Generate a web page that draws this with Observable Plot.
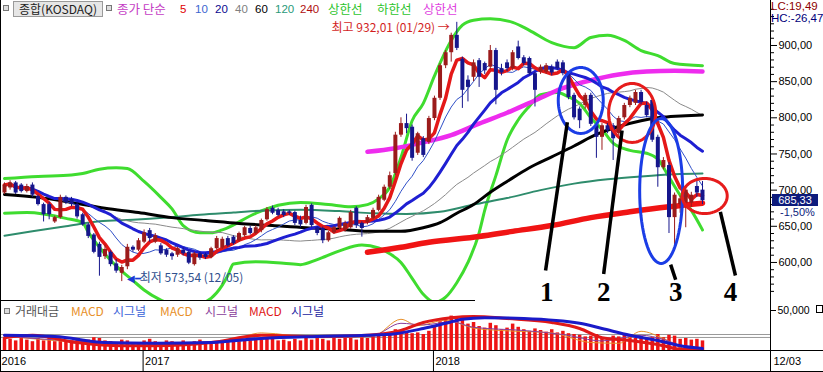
<!DOCTYPE html>
<html><head><meta charset="utf-8">
<script src="https://cdn.jsdelivr.net/npm/d3@7"></script>
<script src="https://cdn.jsdelivr.net/npm/@observablehq/plot@0.6"></script>
<style>
body{margin:0;background:#fff;}
#wrap{position:relative;width:823px;height:372px;overflow:hidden;background:#fff;font-family:"Liberation Sans",Arial,sans-serif;}
#wrap svg{position:absolute;left:0;overflow:visible;}
.ov{position:absolute;white-space:nowrap;line-height:15px;font-size:12px;}
</style></head><body><div id="wrap"></div>
<script>
// ---------- DATA (weekly KOSDAQ candles, index 0 = Jul 2016, 125 = 12/03/2018) ----------
const opens = [696,703,710,707,698,707,691,680,680,656, 662,690,687,680,666,652,638,625,608,614,
 598,585,594,621,617,628,644,628,623,617, 612,610,617,614,597,612,611,607,619,620,
 633,635,630,637,647,640,644,659,675,672, 670,670,669,658,654,679,648,647,630,641,
 647,644,648,675,654,655,661,672,686,704, 723,776,792,787,751,771,766,799,827,872,
 890,914,881,852,856,879,875,870,893,868, 876,868,898,883,882,861,863,863,870,877,
 876,861,831,812,817,831,789,773,789,789, 778,800,817,820,835,817,824,773,731,734,
 662,680,682,682,705,700];
const highs = [710,713,712,709,708,710,693,682,683,664, 693,692,690,683,668,654,640,628,624,616,
 604,596,625,623,633,645,647,640,626,619, 614,621,620,616,614,614,613,621,636,635,
 636,637,642,650,650,651,660,676,678,675, 673,672,671,664,679,681,650,649,643,650,
 663,657,672,677,656,665,675,693,707,725, 780,800,805,790,780,774,802,830,875,893,
 917,932.01,884,858,880,882,877,900,896,874, 880,893,906,886,884,863,873,875,873,880,
 879,864,834,815,834,834,792,792,792,792, 802,820,830,838,838,822,826,776,745,738,
 696,692,704,697,712,712];
const lows = [694,700,694,696,696,690,678,656,659,654, 660,680,677,660,650,633,612,581,604,594,
 585,573.54,590,614,615,626,628,626,610,607, 603,607,609,597,595,603,604,605,617,618,
 621,624,628,635,638,638,641,657,666,663, 662,665,651,648,652,648,637,626,628,639,
 645,642,646,647,635,652,659,670,684,701, 720,773,778,740,748,745,763,796,824,868,
 877,893,813,822,850,842,860,866,818,858, 864,865,880,872,858,815,860,860,858,865,
 858,825,797,785,812,788,744,755,778,741, 775,797,814,817,818,800,766,704,728,640,
 617,668,648,676,690,680];
const closes = [707,710,696,698,705,693,680,666,666,662, 690,683,680,663,652,636,614,607,618,597,
 588,593,621,617,630,641,633,637,612,610, 608,619,612,599,612,606,607,619,633,632,
 623,626,640,648,640,648,658,673,668,665, 665,668,654,652,676,651,640,630,641,648,
 661,654,669,651,647,662,672,690,704,720, 776,792,785,744,778,748,799,827,872,890,
 914,896,838,842,876,856,865,893,838,862, 868,890,882,875,861,838,870,872,862,868,
 861,828,800,796,831,791,773,789,782,771, 799,817,827,835,821,803,769,731,741,662,
 693,688,700,693,696,685.33];

// lines: [week index, value]
const ma60 = [[0,694],[6,690],[12,683],[18,675],[24,669],[30,662],[36,658],[42,654],[48,651],[54,648],[60,646],[66,643],[71,643],[75,648],[78,655],[81,668],[84,680],[87,697],[90,712],[94,731],[98,746],[102,761],[106,777],[110,788],[114,796],[118,801],[122,803],[125,804]];
const ma120 = [[0,637],[5,643],[11,650],[17,657],[23,659],[29,662],[35,666],[41,669],[47,672],[53,673],[60,671],[66,668],[72,667],[78,670],[84,680],[90,689],[96,700],[102,709],[108,715],[114,719],[120,722],[125,723]];
const ma240 = [[65,614],[71,621],[76,628],[85,636],[91,643],[98,651],[105,662],[112,670],[119,677],[125,682]];
const envUpper = [[65,753],[70,758],[75,766],[80,776],[85,792],[90,807],[95,824],[100,841],[105,852],[110,860],[115,864],[120,865],[125,864]];
const bandUpper = [[0,716],[6,719],[12,721],[14,723],[17,729],[20,731],[22,730],[25,712],[28,690],[30,674],[32,651],[35,641],[37,641],[39,645],[45,668],[49,679],[53,683],[58,680],[62,677],[65,680],[67,688],[69,704],[71,745],[73,796],[75,820],[77,858],[80,907],[82,928],[84,935],[87,937],[91,932],[94,921],[98,904],[102,897],[105,911],[108,914],[111,907],[114,893],[117,886],[120,875],[125,872]];
const bandLower = [[0,668],[4,669],[11,661],[14,655],[15,642],[17,621],[19,603],[21,588],[23,575],[25,562],[28,548],[31,540],[35,543],[38,558],[40,582],[41,598],[45,601],[50,599],[53,597],[56,604],[60,616],[64,624],[67,620],[69,612],[71,600],[73,578],[75,556],[77,545],[79,552],[81,572],[83,600],[85,641],[86,672],[88,720],[90,769],[92,797],[94,816],[96,832],[99,835],[101,829],[103,820],[105,800],[107,784],[109,765],[112,755],[115,751],[117,743],[119,718],[121,693],[123,672],[125,645]];

// lower panel: trading value (thousands) and MACD / signal lines in panel units
const tradeValue = [15,14,12,16,13,11,15,12,17,11, 13,10,12,14,11,13,16,15,12,11,
 10,13,12,9,10,12,14,11,10,12, 11,9,12,10,11,13,10,9,11,12,
 10,12,11,13,12,14,13,15,14,12, 13,11,14,12,15,13,16,14,12,15,
 14,16,15,13,16,15,17,18,20,22, 26,25,23,21,22,20,24,30,36,40,
 43,42,38,33,35,30,28,34,31,26, 28,33,29,26,24,27,25,23,26,22,
 24,21,20,19,17,18,20,16,15,18, 17,19,16,15,17,15,16,20,16,19,
 18,14,15,13,14,12];
const macdRed = [[0,16],[5,19],[13,10],[21,6],[27,6],[37,10],[46,19],[56,17.5],[65,19],[71,25],[75,35],[80,41],[84,42.5],[90,40],[98,35],[103,27.5],[107,16],[112,12.5],[118,6],[121,1.5],[125,1.5]];
const signalNavy = [[0,19],[9,17.5],[18,10],[27,9],[37,10],[46,15],[56,17.5],[65,19],[70,21],[75,27.5],[79,34],[82,39],[86,41],[93,40],[103,34],[107,27.5],[112,19],[117,12.5],[121,6],[125,2.5]];
const macdOrange = [[0,18],[12,11],[26,8],[40,12],[46,22],[56,16],[66,18],[71,39],[74,31],[79,38],[84,28],[89,25],[98,22],[105,10],[110,9],[114,24],[118,15],[122,2],[125,1]];
const signalPurple = [[0,18],[12,12],[26,9],[40,12],[46,19],[56,18],[66,19],[71,34],[75,32],[80,36],[84,29],[93,25],[100,20],[107,12],[114,19],[118,14],[122,4],[125,2]];

// ticks / labels
const yTicks = [600,650,700,750,800,850,900];
const yMinor = [560,570,580,590,610,620,630,640,660,670,680,690,710,720,730,740,760,770,780,790,810,820,830,840,860,870,880,890,910,920,930,940,950];
const lowerTicks = [50];
const yearTicks = [{i:-0.7,label:"2016"},{i:25,label:"2017"},{i:77,label:"2018"}];
const lastDateLabel = "12/03";
const highLabel = {i:81, v:932.01, text:"최고 932,01 (01/29) →"};
const lowLabel = {i:21, v:573.54, text:"최저 573,54 (12/05)"};

// hand-drawn annotations (data units)
const annoEllipses = [
 {id:1, color:"#1b3de6", ci:103.2, cv:824, ri:4.03, rv:45.6},
 {id:2, color:"#e61c1c", ci:112.4, cv:806.7, ri:4.21, rv:40.8},
 {id:3, color:"#1b3de6", ci:117.6, cv:698.8, ri:3.85, rv:100.2},
 {id:4, color:"#e61c1c", ci:125.4, cv:691.9, ri:4.03, rv:24.2}];
const annoPointers = [
 {i1:100.8, v1:794, i2:96.9, v2:589},
 {i1:110.6, v1:782.5, i2:107.3, v2:584},
 {i1:119.3, v1:597, i2:120.2, v2:576},
 {i1:128.2, v1:670, i2:130.9, v2:582}];
const annoNumbers = [{i:97.1,v:558,label:"1"},{i:107.3,v:558,label:"2"},{i:120.2,v:558,label:"3"},{i:130.0,v:558,label:"4"}];

// ---------- BUILD ----------
const xMin = -0.716, xMax = 137.18;
const yMin = 547.4, yMax = 962.2;
const UP = "#9b1b1b", DOWN = "#16168c";
const kr = "Noto Sans CJK KR";
const candles = closes.map((c, i) => ({i, open: opens[i], high: highs[i], low: lows[i], close: c, color: c >= opens[i] ? UP : DOWN}));
const P = arr => arr.map(([i, v]) => ({i, v}));
const ellipsePts = annoEllipses.flatMap(e => d3.range(72).map(k => {
  const t = 2 * Math.PI * k / 72;
  return {id: e.id, color: e.color, i: e.ci + e.ri * Math.cos(t), v: e.cv + e.rv * Math.sin(t)};
}));
const base = {width: 823, marginLeft: 0, marginRight: 53, marginTop: 0, marginBottom: 0,
  x: {domain: [xMin, xMax], axis: null, label: null}, color: {type: "identity"},
  style: {background: "transparent", fontFamily: "Liberation Sans, Arial, sans-serif", fontSize: "11px", overflow: "visible", color: "#000"}};
const L = (arr, stroke, w) => Plot.line(P(arr), {x: "i", y: "v", stroke, strokeWidth: w, curve: "monotone-x", clip: true});
const MA = (k, stroke, w) => Plot.lineY(candles, Plot.windowY({k, anchor: "end", strict: false}, {x: "i", y: "close", stroke, strokeWidth: w, clip: true}));

const main = Plot.plot({...base, height: 300,
  y: {domain: [yMin, yMax], axis: null, label: null},
  marks: [
    L(bandUpper, "#3fdc2f", 3),
    L(bandLower, "#3fdc2f", 3),
    L(ma120, "#2e8c6c", 2),
    MA(40, "#8a8a8a", 1),
    L(ma60, "#000000", 3),
    L(ma240, "#f01414", 5.5),
    L(envUpper, "#ee2cee", 4.5),
    MA(10, "#3050c8", 1),
    MA(20, "#1f1fd2", 3),
    MA(5, "#e41818", 3.5),
    Plot.ruleX(candles, {x: "i", y1: "low", y2: "high", stroke: "color", strokeWidth: 1}),
    Plot.ruleX(candles, {x: "i", y1: "open", y2: "close", stroke: "color", strokeWidth: 4}),
    Plot.line(ellipsePts, {x: "i", y: "v", z: "id", stroke: "color", strokeWidth: 3, curve: "linear-closed"}),
    Plot.link(annoPointers, {x1: "i1", y1: "v1", x2: "i2", y2: "v2", stroke: "#000", strokeWidth: 3.5}),
    Plot.text(annoNumbers, {x: "i", y: "v", text: "label", fontSize: 27, fontWeight: "bold", fontFamily: "Liberation Serif", fill: "#000"}),
    Plot.text([highLabel], {x: "i", y: "v", text: "text", textAnchor: "end", dx: -7, dy: 6, fill: "#d21e1e", fontSize: 12, fontFamily: kr}),
    Plot.text([lowLabel], {x: "i", y: "v", text: () => "◀━", textAnchor: "start", dx: 5, dy: -3, fill: "#1a3ad6", fontSize: 10}),
    Plot.text([lowLabel], {x: "i", y: "v", text: "text", textAnchor: "start", dx: 18, dy: -3, fill: "#30508e", fontSize: 12, fontFamily: kr}),
    Plot.ruleX([xMax], {stroke: "#000"}),
    Plot.axisY({anchor: "right", label: null, ticks: yMinor, tickSize: 3, tickFormat: () => ""}),
    Plot.axisY({anchor: "right", label: null, ticks: yTicks, tickSize: 6, tickPadding: 2, fontSize: 11, tickFormat: d => d.toFixed(2).replace(".", ",")})
  ]});

const lower = Plot.plot({...base, height: 50,
  y: {domain: [0, 62.5], axis: null, label: null},
  marks: [
    Plot.ruleY([20, 16.3], {stroke: "#9a9a9a", x1: xMin, x2: xMax}),
    Plot.ruleX(tradeValue.map((v, i) => ({i, v})), {x: "i", y1: 0, y2: "v", stroke: "#ee1414", strokeWidth: 3.5}),
    Plot.line(P(macdOrange), {x: "i", y: "v", stroke: "#e8902a", strokeWidth: 1, curve: "monotone-x"}),
    Plot.line(P(signalPurple), {x: "i", y: "v", stroke: "#8a3c9a", strokeWidth: 1, curve: "monotone-x"}),
    Plot.line(P(macdRed), {x: "i", y: "v", stroke: "#e01818", strokeWidth: 3, curve: "monotone-x"}),
    Plot.line(P(signalNavy), {x: "i", y: "v", stroke: "#1a1ac8", strokeWidth: 3, curve: "monotone-x"}),
    Plot.ruleX([xMax], {stroke: "#000"}),
    Plot.axisY({anchor: "right", label: null, ticks: lowerTicks, tickSize: 5, tickPadding: 2, fontSize: 10.5, tickFormat: d => d3.format(",")(d * 1000)})
  ]});

const axisPanel = Plot.plot({...base, height: 22,
  y: {domain: [0, 1], axis: null, label: null},
  marks: [
    Plot.ruleX(yearTicks, {x: "i", stroke: "#000", dx: -1}),
    Plot.text(yearTicks, {x: "i", y: 0.5, text: "label", textAnchor: "start", dx: 1, fontSize: 11}),
    Plot.ruleX([xMax], {stroke: "#000"}),
    Plot.text([lastDateLabel], {x: xMax, y: 0.5, text: d => d, textAnchor: "start", dx: 3, fontSize: 11})
  ]});

const wrap = document.getElementById("wrap");
[[main, 0], [lower, 300], [axisPanel, 350]].forEach(([svg, top]) => { svg.style.top = top + "px"; wrap.appendChild(svg); });

function ov(text, left, top, color, extra) {
  const s = document.createElement("span");
  s.className = "ov"; s.textContent = text;
  Object.assign(s.style, {left: left + "px", top: top + "px", color}, extra || {});
  wrap.appendChild(s); return s;
}
function box(left, top, w, h, extra) {
  const d = document.createElement("div");
  Object.assign(d.style, {position: "absolute", left: left + "px", top: top + "px", width: w + "px", height: h + "px"}, extra || {});
  wrap.appendChild(d);
}
const hl = (l, t, w, h) => box(l, t, w, h, {background: "#000"});
// frame lines
hl(0, 0, 1, 372); hl(0, 300, 475, 1); hl(0, 350, 823, 1); hl(0, 371, 823, 1);

// header legend
const icon = (l, t) => box(l, t, 4, 4, {border: "1px solid #777", background: "#ddd"});
icon(3, 5);
ov("종합(KOSDAQ)", 13, 1, "#222", {width: "88px", height: "14px", border: "1px solid #9a9a9a", background: "#e6e6e6", fontFamily: kr, fontSize: "12px", textAlign: "center", lineHeight: "14px"});
icon(106, 5);
const headerItems = [["종가 단순","#c43cc4",117,true],["5","#e00000",180],["10","#3a66d0",195],["20","#0a0a90",215],["40","#808080",235],["60","#000000",255],["120","#2a9a7a",275],["240","#b01010",300],["상한선","#2cc42c",328,true],["하한선","#2cc42c",377,true],["상한선","#e040e0",423,true]];
headerItems.forEach(([t, c, l, k]) => ov(t, l, k ? 1 : 2, c, k ? {fontFamily: kr, fontSize: "12.5px", lineHeight: "16px"} : {fontSize: "11.5px"}));
ov("LC:19,49", 771, 1, "#8e0000", {fontSize: "11.5px", lineHeight: "11px"});
ov("HC:-26,47", 771, 13, "#00007a", {fontSize: "11.5px", lineHeight: "11px"});

// current price box
const py = main.scale("y").apply(closes[closes.length - 1]);
ov("685,33", 772, py - 6, "#fff", {background: "#0d1b7c", width: "46px", height: "12px", lineHeight: "12px", textAlign: "center", fontSize: "11px"});
ov("-1,50%", 780, py + 7, "#0d1b7c", {fontSize: "11px", lineHeight: "11px"});

// lower panel legend
icon(4, 308);
const lowerItems = [["거래대금","#555555",15],["MACD","#e8902a",71],["시그널","#3a62d8",113],["MACD","#e8902a",160],["시그널","#8a3c9a",205],["MACD","#e01818",249],["시그널","#1a1aa0",291]];
lowerItems.forEach(([t, c, l]) => ov(t, l, 303, c, {fontFamily: kr, fontSize: "12px", lineHeight: "16px"}));
box(816, 305, 5, 6, {border: "1px solid #000"});
</script></body></html>
